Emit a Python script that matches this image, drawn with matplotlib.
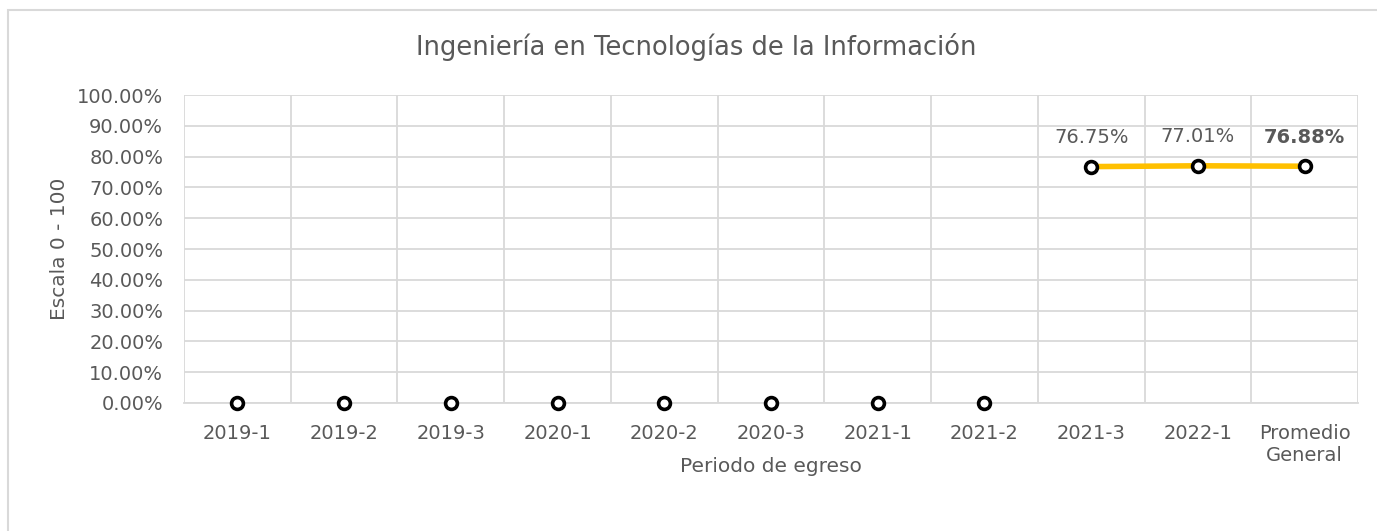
import matplotlib.pyplot as plt
from matplotlib.patches import Rectangle
from matplotlib.ticker import PercentFormatter
import numpy as np

# datos
periodos = ["2019-1", "2019-2", "2019-3", "2020-1", "2020-2", "2020-3",
            "2021-1", "2021-2", "2021-3", "2022-1", "Promedio\nGeneral"]
valores = [0, 0, 0, 0, 0, 0, 0, 0, 76.75, 77.01, 76.88]
etiquetas = ["", "", "", "", "", "", "", "", "76.75%", "77.01%", "76.88%"]

gris = "#595959"
plt.rcParams['font.family'] = ['DejaVu Sans']

fig = plt.figure(figsize=(13.77, 5.31), dpi=100)
fig.patch.set_facecolor("white")
# marco del grafico
fig.patches.append(Rectangle((8 / 1377, -0.01), 1.0, 1 - 10 / 531 + 0.01,
                             transform=fig.transFigure, fill=False,
                             edgecolor="#D9D9D9", linewidth=1.5))

ax = fig.add_axes([184 / 1377, 1 - 403 / 531, (1358 - 184) / 1377, (403 - 95) / 531])
x = np.arange(len(periodos))
y = np.array(valores)

# ceros solo con marcador, ultimos tres unidos con linea
ax.plot(x[8:], y[8:], color="#FFC000", linewidth=4, zorder=3)
ax.plot(x, y, linestyle="none", marker="o", markersize=8.5, markerfacecolor="white",
        markeredgecolor="black", markeredgewidth=2.6, zorder=4, clip_on=False)

for i, lab in enumerate(etiquetas):
    if lab:
        ax.annotate(lab, (x[i], y[i]), xytext=(0, 14), textcoords="offset points",
                    ha="center", va="bottom", fontsize=14, color=gris,
                    fontweight="bold" if i == len(periodos) - 1 else "normal")

ax.set_xlim(-0.5, len(periodos) - 0.5)
ax.set_ylim(0, 100)
ax.set_yticks(np.arange(0, 101, 10))
ax.yaxis.set_major_formatter(PercentFormatter(decimals=2))
ax.set_xticks(x)
ax.set_xticklabels(periodos)
ax.set_xticks(np.arange(-0.5, len(periodos), 1), minor=True)

ax.grid(True, axis="y", color="#D9D9D9", linewidth=1.3)
ax.grid(True, axis="x", which="minor", color="#D9D9D9", linewidth=1.3)
ax.tick_params(axis="both", which="both", length=0, labelsize=14, labelcolor=gris)
ax.tick_params(axis="x", pad=15)
ax.tick_params(axis="y", pad=15)
for s in ax.spines.values():
    s.set_visible(False)
ax.spines["bottom"].set_visible(True)
ax.spines["bottom"].set_color("#D9D9D9")
ax.spines["bottom"].set_linewidth(1.3)
ax.set_axisbelow(True)

ax.set_xlabel("Periodo de egreso", fontsize=14.5, color=gris, labelpad=-6)
ax.set_ylabel("Escala 0 - 100", fontsize=14.5, color=gris, labelpad=6)
fig.text(0.5056, 1 - 47 / 531, "Ingeniería en Tecnologías de la Información",
         ha="center", va="center", fontsize=18.5, color=gris)

fig.savefig("out.png", dpi=100)
